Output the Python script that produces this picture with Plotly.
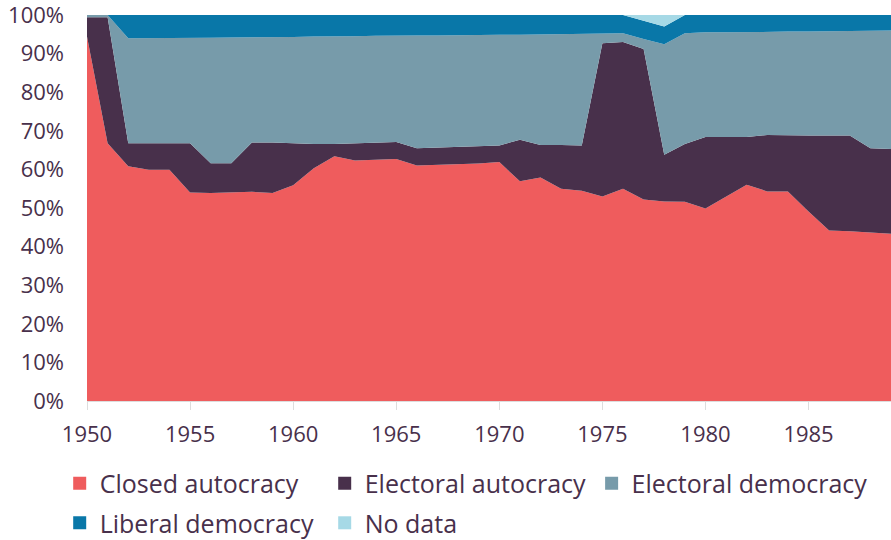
import plotly.graph_objects as go

years = list(range(1950, 1990))

closed_autocracy = [
    94.4, 66.8, 60.8, 59.9, 59.9, 54.0, 53.9, 54.0, 54.2, 53.9,
    55.9, 60.3, 63.4, 62.3, 62.5, 62.7, 61.0, 61.2, 61.4, 61.5,
    61.9, 56.9, 57.9, 55.0, 54.5, 53.0, 55.0, 52.2, 51.7, 51.6,
    49.9, 53.0, 56.0, 54.3, 54.3, 49.1, 44.2, 44.0, 43.7, 43.3,
]
electoral_autocracy = [
    5.0, 32.6, 6.0, 6.9, 6.9, 12.8, 7.7, 7.6, 12.8, 13.1,
    10.9, 6.3, 3.2, 4.5, 4.5, 4.4, 4.5, 4.5, 4.5, 4.5,
    4.3, 10.8, 8.4, 11.3, 11.7, 39.7, 38.0, 39.0, 12.1, 15.0,
    18.5, 15.4, 12.4, 14.6, 14.5, 19.7, 24.6, 24.8, 21.8, 22.0,
]
electoral_democracy = [
    0.6, 0.6, 27.2, 27.2, 27.2, 27.3, 32.5, 32.6, 27.2, 27.3,
    27.5, 27.8, 27.8, 27.7, 27.6, 27.6, 29.2, 29.0, 28.9, 28.8,
    28.7, 27.2, 28.7, 28.8, 29.0, 2.6, 2.3, 2.6, 28.6, 28.7,
    27.1, 27.1, 27.2, 26.7, 26.9, 26.9, 27.0, 27.0, 30.4, 30.7,
]
liberal_democracy = [
    0.0, 0.0, 6.0, 6.0, 6.0, 5.9, 5.9, 5.8, 5.8, 5.7,
    5.7, 5.6, 5.6, 5.5, 5.4, 5.3, 5.3, 5.3, 5.2, 5.2,
    5.1, 5.1, 5.0, 4.9, 4.8, 4.7, 4.7, 4.7, 4.6, 4.7,
    4.5, 4.5, 4.4, 4.4, 4.3, 4.3, 4.2, 4.2, 4.1, 4.0,
]
no_data = [
    0.0, 0.0, 0.0, 0.0, 0.0, 0.0, 0.0, 0.0, 0.0, 0.0,
    0.0, 0.0, 0.0, 0.0, 0.0, 0.0, 0.0, 0.0, 0.0, 0.0,
    0.0, 0.0, 0.0, 0.0, 0.0, 0.0, 0.0, 1.5, 3.0, 0.0,
    0.0, 0.0, 0.0, 0.0, 0.0, 0.0, 0.0, 0.0, 0.0, 0.0,
]

series = [
    ("Closed autocracy", closed_autocracy, "#EF5C5D", "legend"),
    ("Electoral autocracy", electoral_autocracy, "#48304B", "legend"),
    ("Electoral democracy", electoral_democracy, "#779BAA", "legend3"),
    ("Liberal democracy", liberal_democracy, "#0977A8", "legend2"),
    ("No data", no_data, "#A6D9E6", "legend2"),
]

TEXT = "#48304B"
FONT = "Open Sans"

fig = go.Figure()
for name, vals, color, _ in series:
    fig.add_trace(go.Scatter(
        x=years, y=vals, name=name, stackgroup="one",
        mode="lines", line=dict(width=0, color=color),
        fillcolor=color, showlegend=False,
    ))

# legend entries drawn as small squares
for name, vals, color, leg in series:
    fig.add_trace(go.Scatter(
        x=[None], y=[None], name=name, mode="markers", legend=leg,
        marker=dict(symbol="square", size=13, color=color),
    ))

# container-referenced legends so they don't shrink the plot area
legend_style = dict(
    orientation="h", xanchor="left", yanchor="top",
    xref="container", yref="container",
    itemwidth=30, traceorder="normal",
    font=dict(family=FONT, size=25, color=TEXT),
    bgcolor="rgba(0,0,0,0)",
)

fig.update_layout(
    width=891, height=540,
    margin=dict(l=87, r=0, t=15, b=139),
    plot_bgcolor="white", paper_bgcolor="white",
    font=dict(family=FONT, size=22, color=TEXT),
    legend=dict(legend_style, x=0.067, y=0.147, entrywidth=220, entrywidthmode="pixels"),
    legend3=dict(legend_style, x=0.664, y=0.147),
    legend2=dict(legend_style, x=0.067, y=0.074, entrywidth=220, entrywidthmode="pixels"),
    showlegend=True,
)
fig.update_xaxes(
    range=[1950, 1989], tickvals=[1950, 1955, 1960, 1965, 1970, 1975, 1980, 1985],
    showgrid=False, showline=True, linecolor="#dddddd", linewidth=1,
    ticks="outside", ticklen=8, tickcolor="#dddddd", zeroline=False,
    tickfont=dict(family=FONT, size=22, color=TEXT), ticklabelstandoff=6,
    automargin=False, ticklabeloverflow="allow",
)
fig.update_yaxes(
    range=[0, 100], dtick=10, ticksuffix="%",
    showgrid=True, gridcolor="#e6e6e6", zeroline=False,
    tickfont=dict(family=FONT, size=22, color=TEXT), ticklabelstandoff=22,
    automargin=False, ticklabeloverflow="allow",
)

# page body has a default margin; drop it so the figure fills the window
fig.write_html(
    "out.html",
    config={"displayModeBar": False},
    post_script="document.body.style.margin='0';",
)
